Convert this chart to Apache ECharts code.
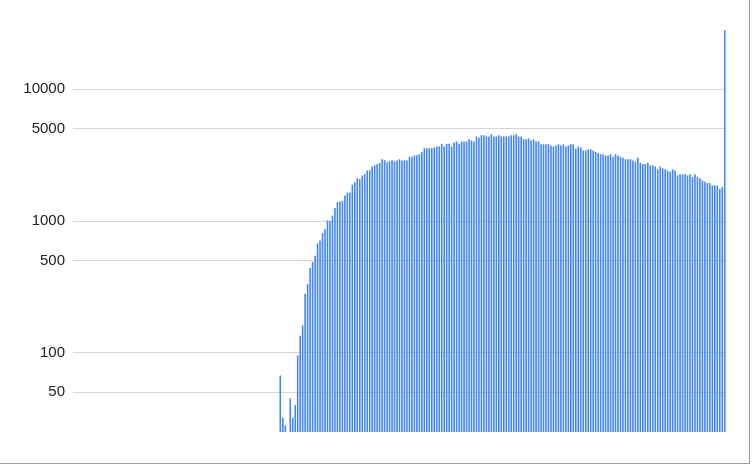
<!DOCTYPE html>
<html>
<head>
<meta charset="utf-8">
<script src="https://cdn.jsdelivr.net/npm/echarts@6/dist/echarts.min.js"></script>
<style>
  html, body { margin: 0; padding: 0; background: #fff; }
  #main { width: 752px; height: 465px; }
</style>
</head>
<body>
<div id="main"></div>
<script>
// days before the first reported value (nothing drawn)
var emptyDays = 83;

// daily values
var dailyValues = [
  67, 32, 28, null, 45, 32, 40, 95, 134, 161, 279, 331, 438, 486, 543, 673, 710, 807, 865, 1005, 1000, 1097, 1248, 1386,
  1400, 1417, 1555, 1630, 1640, 1875, 1963, 2105, 2070, 2201, 2256, 2405, 2420, 2575, 2640, 2700, 2738, 2933, 2880, 2783,
  2830, 2880, 2815, 2860, 2933, 2860, 2880, 2860, 3040, 3054, 3125, 3146, 3200, 3330, 3550, 3550, 3550, 3550,
  3592, 3656, 3656, 3830, 3656, 3830, 3830, 3656, 3920, 3990, 3830, 3990, 3990, 3990, 4160, 4060, 3990, 4355, 4255, 4460,
  4460, 4355, 4355, 4535, 4355, 4355, 4460, 4355, 4355, 4355, 4355, 4460, 4460, 4535, 4355, 4355, 4160, 4160, 4230,
  4060, 4160, 3990, 3990, 3810, 3810, 3810, 3810, 3720, 3656, 3720, 3810, 3720, 3810, 3656, 3720, 3810, 3810, 3510, 3656,
  3592, 3410, 3410, 3490, 3490, 3410, 3330, 3270, 3200, 3200, 3125, 3125, 3200, 3054, 3200, 3125, 3054, 3000,
  2933, 2933, 2933, 2860, 2800, 3000, 2750, 2700, 2689, 2750, 2623, 2623, 2575, 2463, 2575, 2507, 2463, 2405, 2350, 2463,
  2405, 2201, 2256, 2256, 2256, 2201, 2256, 2155, 2256, 2155, 2105, 2020, 1975, 1930, 1930, 1852, 1852, 1852, 1738, 1810,
  27800
];

// y axis tick labels
var yTicks = [50, 100, 500, 1000, 5000, 10000];

var days = [];
var seriesData = [];
for (var i = 0; i < emptyDays; i++) {
  days.push(String(i + 1));
  seriesData.push(null);
}
for (var j = 0; j < dailyValues.length; j++) {
  days.push(String(emptyDays + j + 1));
  seriesData.push(dailyValues[j]);
}

var myChart = echarts.init(document.getElementById('main'));

var option = {
  animation: false,
  grid: { left: 73, right: 26, top: 26, bottom: 33 },
  xAxis: {
    type: 'category',
    data: days,
    show: false
  },
  yAxis: {
    type: 'log',
    logBase: 10,
    min: 25,
    max: 30000,
    axisLine: { show: false },
    axisTick: { show: false, customValues: yTicks },
    axisLabel: {
      customValues: yTicks,
      margin: 8,
      color: '#222',
      fontSize: 15,
      fontFamily: 'Arial, "Liberation Sans", sans-serif',
      formatter: function (v) { return String(Math.round(v)); }
    },
    splitLine: { show: true, lineStyle: { color: '#d6d6d6', width: 1 } }
  },
  series: [{
    type: 'bar',
    data: seriesData,
    barWidth: 1.6,
    itemStyle: { color: '#4285f4' }
  }],
  // spreadsheet frame round the chart
  graphic: [
    { type: 'line', shape: { x1: 0, y1: 463.5, x2: 750, y2: 463.5 }, style: { stroke: '#9e9e9e', lineWidth: 1 } },
    { type: 'line', shape: { x1: 749.5, y1: 0, x2: 749.5, y2: 464 }, style: { stroke: '#9e9e9e', lineWidth: 1 } }
  ]
};

myChart.setOption(option);
</script>
</body>
</html>
